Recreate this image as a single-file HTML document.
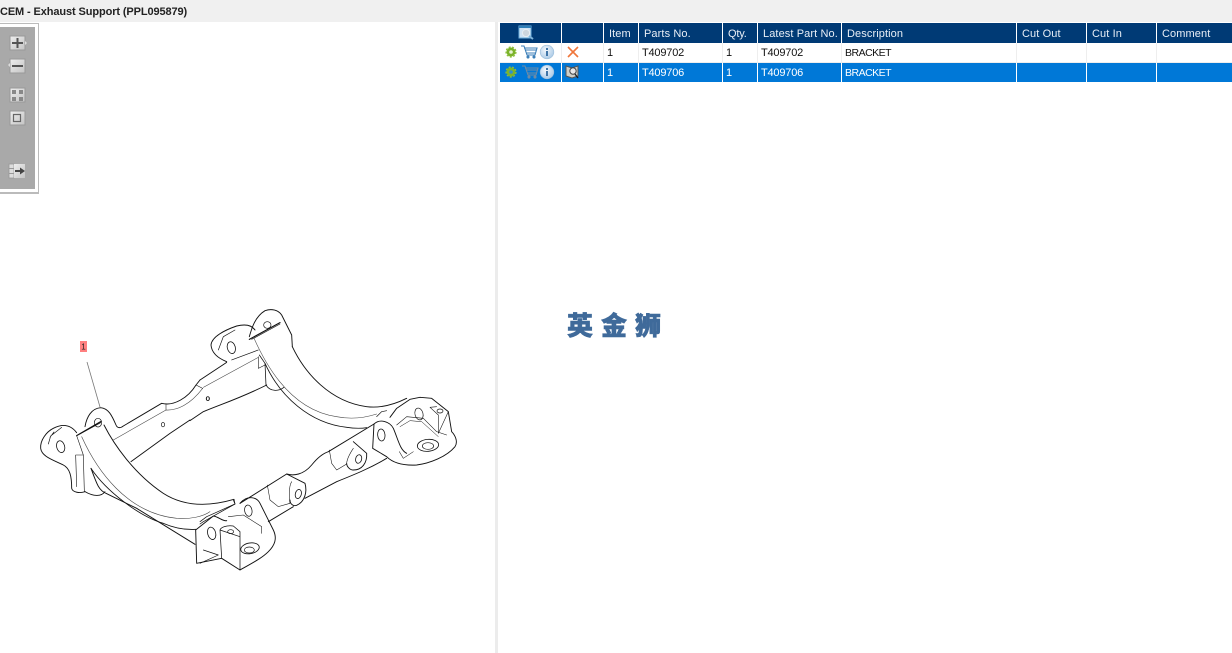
<!DOCTYPE html>
<html><head><meta charset="utf-8"><style>
html,body{margin:0;padding:0;background:#fff;width:1232px;height:653px;overflow:hidden;font-family:"Liberation Sans","Noto Sans CJK SC",sans-serif}
.a{position:absolute}
.t{position:absolute;font-size:11px;line-height:14px;white-space:nowrap;letter-spacing:-.2px}
.h{color:#e8eef6;top:26.500px;letter-spacing:.1px}
.r1{color:#111;top:45.500px}
.r2{color:#fff;top:65.500px}
.br{font-size:10.500px;letter-spacing:-.5px}
</style></head><body>
<div class="a" style="left:0;top:0;width:1232px;height:22px;background:#f0f0f0"></div>
<div class="a" style="left:0;top:5px;font-size:11px;line-height:14px;font-weight:bold;color:#222;white-space:nowrap;letter-spacing:-.11px">CEM - Exhaust Support (PPL095879)</div>
<div class="a" style="left:495px;top:22px;width:3px;height:631px;background:#ececec"></div>
<div class="a" style="left:0;top:23px;width:38px;height:168px;border:solid #bbb;border-width:1px 1px 2px 0"></div>
<div class="a" style="left:0;top:27px;width:35px;height:162px;background:#a9a9a9"></div>

<div class="a" style="left:500px;top:23px;width:732px;height:20px;background:#003a75"></div>
<div class="a" style="left:500px;top:43px;width:732px;height:20px;background:#fff"></div>
<div class="a" style="left:500px;top:63px;width:732px;height:19px;background:#0078d7"></div>
<div class="a" style="left:500px;top:62px;width:732px;height:1px;background:#eee"></div>

<svg class="a" style="left:0;top:0" width="1232" height="653" viewBox="0 0 1232 653">
<defs><linearGradient id="b" x1="0" y1="0" x2="1" y2="1"><stop offset="0" stop-color="#eee"/><stop offset="1" stop-color="#c4c4c4"/></linearGradient>
<radialGradient id="i" cx=".4" cy=".35" r=".7"><stop offset="0" stop-color="#f2f7fc"/><stop offset="1" stop-color="#a9c9e6"/></radialGradient></defs>
<g fill="#fff">
<rect x="561" y="23" width="1" height="20"/><rect x="603" y="23" width="1" height="20"/><rect x="638" y="23" width="1" height="20"/><rect x="722" y="23" width="1" height="20"/><rect x="757" y="23" width="1" height="20"/><rect x="841" y="23" width="1" height="20"/><rect x="1016" y="23" width="1" height="20"/><rect x="1086" y="23" width="1" height="20"/><rect x="1156" y="23" width="1" height="20"/>
<rect x="561" y="63" width="1" height="19"/><rect x="603" y="63" width="1" height="19"/><rect x="638" y="63" width="1" height="19"/><rect x="722" y="63" width="1" height="19"/><rect x="757" y="63" width="1" height="19"/><rect x="841" y="63" width="1" height="19"/><rect x="1016" y="63" width="1" height="19"/><rect x="1086" y="63" width="1" height="19"/><rect x="1156" y="63" width="1" height="19"/>
</g>
<g fill="#eee">
<rect x="561" y="43" width="1" height="19"/><rect x="603" y="43" width="1" height="19"/><rect x="638" y="43" width="1" height="19"/><rect x="722" y="43" width="1" height="19"/><rect x="757" y="43" width="1" height="19"/><rect x="841" y="43" width="1" height="19"/><rect x="1016" y="43" width="1" height="19"/><rect x="1086" y="43" width="1" height="19"/><rect x="1156" y="43" width="1" height="19"/>
</g>

<!-- toolbar -->
<g>
<rect x="10" y="36" width="15" height="14" fill="url(#b)" stroke="#999"/><path d="M25 41l2 2-2 2z" fill="#ddd"/><path d="M12 43h11M17.500 38v10" stroke="#555" stroke-width="2"/>
<rect x="10" y="59" width="15" height="14" fill="url(#b)" stroke="#999"/><path d="M10 63l-2 2 2 2z" fill="#ddd"/><path d="M12 66h11" stroke="#555" stroke-width="2"/>
<rect x="10" y="88" width="15" height="14" fill="url(#b)" stroke="#999"/><g fill="#888"><rect x="12" y="90" width="4" height="4"/><rect x="19" y="90" width="4" height="4"/><rect x="12" y="97" width="4" height="4"/><rect x="19" y="97" width="4" height="4"/></g>
<rect x="10" y="111" width="15" height="14" fill="url(#b)" stroke="#999"/><rect x="13.500" y="114.500" width="7" height="7" fill="none" stroke="#666" stroke-width="1.200"/>
<rect x="9" y="164" width="5" height="14" fill="#ddd" stroke="#999" stroke-width=".8"/><path d="M9 168.500h5M9 173.500h5" stroke="#999"/><rect x="14" y="164" width="11" height="14" fill="url(#b)"/><path d="M15 171h6" stroke="#444" stroke-width="2"/><path d="M20 167.500l5 3.500-5 3.500z" fill="#444"/>
</g>

<!-- header icon -->
<rect x="519" y="26" width="12" height="12" fill="#cfe3f4" stroke="#6fb0dd"/><rect x="519" y="26" width="12" height="2" fill="#2f7fb8"/><circle cx="526" cy="33" r="3.600" fill="#cdd6de" stroke="#e8eef3"/><path d="M529 36l4 3" stroke="#7fb4da" stroke-width="2"/>

<!-- row icons -->
<circle cx="511" cy="52" r="4.500" fill="#7cb32b"/><circle cx="511" cy="52" r="5" fill="none" stroke="#8cc03a" stroke-width="1.200" stroke-dasharray="2 1.500"/><circle cx="511" cy="52" r="1.800" fill="#e8f3d4"/>
<g fill="none" stroke="#3c7fb8" stroke-width="1.100"><path d="M521 46h3l3 9h8l2-7h-13M525 50h11M526 53h10"/><circle cx="528" cy="57" r="1" fill="#3c7fb8"/><circle cx="534" cy="57" r="1" fill="#3c7fb8"/></g>
<circle cx="547" cy="52" r="6.800" fill="url(#i)" stroke="#9fc0dc" stroke-width=".7"/><rect x="546" y="51" width="2" height="5" fill="#3f75a8"/><rect x="546" y="48" width="2" height="2" fill="#3f75a8"/>
<path d="M568 47l10 10M578 47l-10 10" stroke="#f0763a" stroke-width="1.600"/>

<circle cx="511" cy="72" r="4.500" fill="#7cb32b"/><circle cx="511" cy="72" r="5" fill="none" stroke="#8cc03a" stroke-width="1.200" stroke-dasharray="2 1.500"/><circle cx="511" cy="72" r="1.800" fill="#2f8fd0"/>
<g fill="none" stroke="#6f8ba5" stroke-width="1.100"><path d="M522 66h3l3 9h8l2-7h-13M526 70h11M527 73h10"/><circle cx="529" cy="77" r="1" fill="#6f8ba5"/><circle cx="535" cy="77" r="1" fill="#6f8ba5"/></g>
<circle cx="547" cy="72" r="6.800" fill="url(#i)" stroke="#9fc0dc" stroke-width=".7"/><rect x="546" y="71" width="2" height="5" fill="#3f75a8"/><rect x="546" y="68" width="2" height="2" fill="#3f75a8"/>
<path d="M566 66l6 2 6-2v10l-6 2-6-2z" fill="#cfcfc8" stroke="#555" stroke-width="1"/><circle cx="573" cy="71" r="3.200" fill="#e8e8e8" stroke="#444"/><path d="M575 74l3 4" stroke="#222" stroke-width="1.300"/>

<!-- callout -->
<rect x="80" y="341" width="7" height="11" fill="#ff8080"/>
<text x="83.500" y="349.500" font-size="8" font-family="Liberation Sans" text-anchor="middle" fill="#222">1</text>
<path d="M87 362L100 407" stroke="#777" stroke-width=".8" fill="none"/>

<!-- drawing: left part -->
<g transform="translate(30 300) scale(.33333)" fill="none" stroke="#111" stroke-width="2.800" stroke-linecap="round" stroke-linejoin="round">
<path d="M140 398C120 372 95 372 70 385C50 395 30 420 32 445C35 470 70 480 100 495C120 505 125 530 125 565C128 578 150 580 165 575"/>
<ellipse cx="92" cy="440" rx="12" ry="18" transform="rotate(-15 92 440)" stroke-width="2.400"/>
<path d="M55 432L62 408L95 382M72 396L60 412" stroke-width="2"/>
<path d="M140 407L160 465L163 575M137 465H160M137 465L140 560" stroke-width="1.800"/>
<path d="M140 407L212 365" stroke-width="3.500"/>
<path d="M148 403L212 368" stroke-width="2"/>
<path d="M165 380C170 350 185 325 212 323C235 325 245 345 258 375C262 385 272 385 280 378L395 310C402 312 410 312 412 312C430 312 470 300 498 255L510 240"/>
<ellipse cx="204" cy="368" rx="11" ry="13" stroke-width="2"/>
<path d="M250 420L408 330C440 332 480 315 518 265" stroke-width="1.700" stroke="#444"/>
<path d="M408 312V330M498 255L518 265" stroke-width="1.600"/>
<path d="M303 485L420 400C450 380 465 370 480 360"/>
<ellipse cx="399" cy="374" rx="5" ry="6.500" stroke-width="2"/>
<ellipse cx="534" cy="296" rx="4.500" ry="6" stroke-width="2"/>
<!-- front arch -->
<path d="M222 375C250 430 310 520 400 580C450 612 520 625 612 598"/>
<path d="M155 410C200 510 290 640 440 655C480 658 520 650 540 635" stroke-width="1.800" stroke="#444"/>
<path d="M183 505C230 575 330 650 400 670C435 685 465 690 497 688" stroke-width="2.500"/>
<path d="M183 505C200 550 205 570 228 580L320 625L495 733"/>
<path d="M165 575C190 590 215 590 225 575" stroke-width="2.500"/>
<path d="M612 598L615 612L520 665L510 672" stroke-width="2.200"/>
</g>

<!-- drawing: right part -->
<g transform="translate(190 300) scale(.33333)" fill="none" stroke="#111" stroke-width="2.800" stroke-linecap="round" stroke-linejoin="round">
<path d="M110 185C85 175 65 160 63 135C65 110 105 90 140 78C165 72 185 75 195 90"/>
<ellipse cx="124" cy="143" rx="12" ry="18" transform="rotate(-15 124 143)" stroke-width="2.400"/>
<path d="M85 150L100 110L135 90" stroke-width="2"/>
<path d="M125 180L205 150" stroke-width="2"/>
<path d="M40 262L205 172" stroke="#444" stroke-width="1.700"/>
<path d="M0 362L40 335C100 310 150 295 230 255"/>
<path d="M30 240L110 187" stroke-width="2.800"/>
<ellipse cx="53" cy="296" rx="4.500" ry="6" stroke-width="2"/>
<path d="M178 110C185 85 195 50 225 32C245 25 265 30 275 45L305 105L307 140"/>
<ellipse cx="232" cy="75" rx="11" ry="10" stroke-width="2"/>
<path d="M178 118L270 68" stroke-width="3.500"/>
<path d="M185 118L270 72" stroke-width="2"/>
<path d="M208 165L225 190L228 255C240 275 265 275 282 262" stroke-width="2.300"/>
<path d="M205 170V205L225 195" stroke-width="1.700"/>
<path d="M307 140C345 220 420 305 530 320C570 325 610 315 650 295"/>
<path d="M190 110C225 190 300 330 440 350C480 358 520 355 560 342" stroke="#444" stroke-width="1.800"/>
<path d="M225 190C270 290 360 370 470 382C490 385 510 386 530 383" stroke-width="2.500"/>
<path d="M560 350L575 335L590 332" stroke-width="2"/>
<path d="M150 610L290 522C310 528 340 525 365 495C385 470 400 460 415 455L552 372"/>
<path d="M235 665L310 620M345 595L440 545C490 525 540 505 590 475"/>
<path d="M290 522L345 550C352 575 345 605 320 616C310 620 300 612 300 600"/>
<ellipse cx="325" cy="582" rx="9" ry="14" transform="rotate(15 325 582)" stroke-width="2.400"/>
<path d="M305 545C295 560 298 600 300 610L265 620L240 600L232 555" stroke-width="1.700"/>
<path d="M490 425L530 460C532 490 515 510 490 510C480 510 470 500 470 490"/>
<ellipse cx="506" cy="477" rx="9" ry="13" transform="rotate(15 506 477)" stroke-width="2.400"/>
<path d="M490 445C480 460 470 480 470 492L440 510L425 490L418 450" stroke-width="1.700"/>
<path d="M552 372C570 355 600 365 610 385C625 420 630 450 650 460M552 372L548 445L590 470C610 490 640 497 680 495C720 490 770 470 795 440C805 425 795 405 785 395L775 335L725 295L690 292L660 298L620 325L600 352"/>
<ellipse cx="574" cy="405" rx="11" ry="18" transform="rotate(-5 574 405)" stroke-width="2.400"/>
<path d="M620 375L650 350L700 355L740 395L770 405" stroke-width="1.700"/>
<path d="M630 380L660 362L695 365L745 410" stroke-width="1.500"/>
<ellipse cx="687" cy="342" rx="12" ry="18" transform="rotate(-15 687 342)" stroke-width="2"/>
<ellipse cx="714" cy="436" rx="32" ry="18" transform="rotate(-5 714 436)" stroke-width="2.500"/>
<ellipse cx="714" cy="438" rx="17" ry="10" stroke-width="2"/>
<path d="M740 320L720 322L745 345V400L775 335" stroke-width="1.700"/>
<ellipse cx="750" cy="333" rx="9" ry="6" stroke-width="2"/>
<path d="M628 455L640 475L670 455" stroke-width="1.600"/>
<path d="M150 610C170 585 200 590 210 610C225 640 235 660 250 690C262 715 255 735 235 755C215 775 185 790 150 810L95 775L20 790L17 690L70 648C85 650 100 665 110 662"/>
<ellipse cx="65" cy="700" rx="12" ry="19" transform="rotate(-15 65 700)" stroke-width="2.400"/>
<path d="M90 690C92 682 110 675 130 678L150 695V810M90 690L95 775M90 690L150 710" stroke-width="2.200"/>
<ellipse cx="122" cy="695" rx="9" ry="6" stroke-width="2"/>
<ellipse cx="175" cy="632" rx="11" ry="17" transform="rotate(-10 175 632)" stroke-width="2.200"/>
<ellipse cx="180" cy="745" rx="28" ry="16" transform="rotate(-10 180 745)" stroke-width="2.500"/>
<ellipse cx="178" cy="750" rx="15" ry="9" stroke-width="2"/>
<path d="M115 650L160 645L215 680V700" stroke-width="1.700"/>
<path d="M130 600L135 612L50 650L30 665" stroke-width="2.200"/>
<path d="M30 790L85 765L40 750" stroke-width="2"/>
</g>
</svg>

<div class="t h" style="left:609px">Item</div>
<div class="t h" style="left:644px">Parts No.</div>
<div class="t h" style="left:728px;letter-spacing:-.2px">Qty.</div>
<div class="t h" style="left:763px">Latest Part No.</div>
<div class="t h" style="left:847px">Description</div>
<div class="t h" style="left:1022px">Cut Out</div>
<div class="t h" style="left:1092px">Cut In</div>
<div class="t h" style="left:1162px">Comment</div>

<div class="t r1" style="left:607px">1</div>
<div class="t r1" style="left:642px">T409702</div>
<div class="t r1" style="left:726px">1</div>
<div class="t r1" style="left:761px">T409702</div>
<div class="t r1 br" style="left:845px">BRACKET</div>
<div class="t r2" style="left:607px">1</div>
<div class="t r2" style="left:642px">T409706</div>
<div class="t r2" style="left:726px">1</div>
<div class="t r2" style="left:761px">T409706</div>
<div class="t r2 br" style="left:845px">BRACKET</div>

<div class="a" style="left:567px;top:309px;font-size:26px;line-height:34px;font-weight:900;color:#3f6a9a;letter-spacing:8px;white-space:nowrap;-webkit-text-stroke:.5px #3f6a9a">英金狮</div>
</body></html>
